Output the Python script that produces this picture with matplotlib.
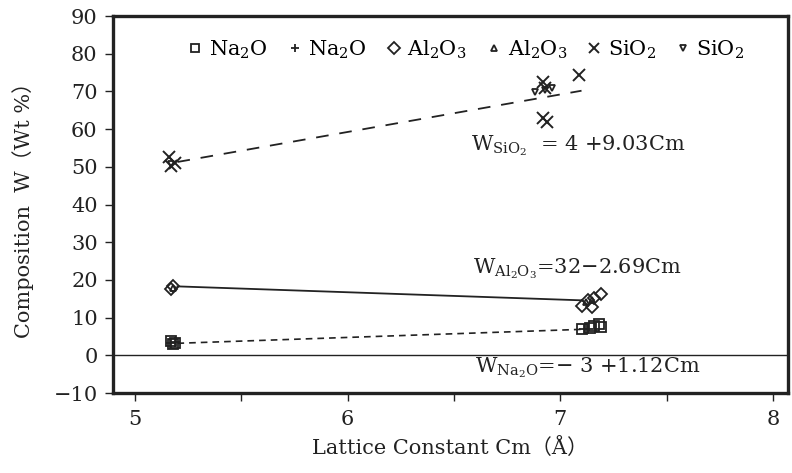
import matplotlib
matplotlib.use("Agg")
import matplotlib.pyplot as plt

plt.rcParams['font.family'] = ['DejaVu Serif', 'Noto Sans CJK JP']
plt.rcParams['mathtext.fontset'] = 'dejavuserif'

# data
na_sq_x = [5.17, 5.18, 5.19, 7.10, 7.14, 7.16, 7.18, 7.19]
na_sq_y = [3.8, 3.0, 3.4, 7.0, 7.3, 7.8, 8.2, 7.4]
na_plus_x = [5.17, 5.19, 7.11, 7.13]
na_plus_y = [3.2, 3.6, 7.1, 7.0]
al_dia_x = [5.17, 5.18, 7.10, 7.13, 7.15, 7.16, 7.19]
al_dia_y = [17.5, 18.3, 13.2, 14.6, 12.7, 15.2, 16.3]
al_tri_x = [5.18, 7.12, 7.15]
al_tri_y = [17.8, 14.2, 14.8]
si_x_x = [5.16, 5.17, 5.19, 6.92, 6.93, 6.92, 6.94, 7.09]
si_x_y = [52.5, 50.3, 51.0, 72.5, 71.0, 63.0, 61.8, 74.3]
si_tri_x = [5.17, 6.88, 6.93, 6.96]
si_tri_y = [50.8, 69.8, 70.5, 70.8]

# fitted lines (end points)
si_line_x = [5.2, 7.1]
si_line_y = [51.3, 70.2]
al_line_x = [5.2, 7.1]
al_line_y = [18.3, 14.6]
na_line_x = [5.2, 7.1]
na_line_y = [3.2, 6.9]

ink = '#222222'

fig = plt.figure(figsize=(7.92, 4.73), dpi=100)
ax = fig.add_axes([0.1427, 0.169, 0.852, 0.797])

ax.axhline(0, color=ink, lw=1.0)
ax.plot(si_line_x, si_line_y, color=ink, lw=1.3, dashes=(7, 6))
ax.plot(al_line_x, al_line_y, color=ink, lw=1.3)
ax.plot(na_line_x, na_line_y, color=ink, lw=1.2, dashes=(4, 3))

ax.plot(na_sq_x, na_sq_y, 's', ms=6.5, mfc='none', mec=ink, mew=1.3, ls='none', label='Na$_2$O')
ax.plot(na_plus_x, na_plus_y, '+', ms=7, mec=ink, mew=1.3, ls='none', label='Na$_2$O')
ax.plot(al_dia_x, al_dia_y, 'D', ms=6.5, mfc='none', mec=ink, mew=1.3, ls='none', label='Al$_2$O$_3$')
ax.plot(al_tri_x, al_tri_y, '^', ms=5, mfc='none', mec=ink, mew=1.3, ls='none', label='Al$_2$O$_3$')
ax.plot(si_x_x, si_x_y, 'x', ms=8, mec=ink, mew=1.4, ls='none', label='SiO$_2$')
ax.plot(si_tri_x, si_tri_y, 'v', ms=5, mfc='none', mec=ink, mew=1.3, ls='none', label='SiO$_2$')

ax.legend(loc='upper left', bbox_to_anchor=(0.085, 0.99), ncol=6, frameon=False,
          fontsize=15, handlelength=0.6, handletextpad=0.35, columnspacing=1.0,
          markerscale=0.9)

ax.text(6.58, 55.5, r'W$_{\mathrm{SiO_2}}$  = 4 +9.03Cm', fontsize=15, color=ink, va='center')
ax.text(6.59, 23.0, r'W$_{\mathrm{Al_2O_3}}$=32$-$2.69Cm', fontsize=15, color=ink, va='center')
ax.text(6.60, -3.4, r'W$_{\mathrm{Na_2O}}$=$-$ 3 +1.12Cm', fontsize=15, color=ink, va='center')

ax.set_xlim(4.897, 8.07)
ax.set_ylim(-10, 90)
ax.set_xticks([5, 6, 7, 8])
ax.set_xticks([5.5, 6.5, 7.5], minor=True)
ax.set_yticks(range(-10, 91, 10))
ax.set_yticklabels(['\u221210'] + [str(v) for v in range(0, 91, 10)])
ax.tick_params(axis='both', which='both', direction='out', length=6, width=1.0,
               colors=ink, labelsize=15, pad=5)
ax.tick_params(axis='x', pad=6)
for s in ax.spines.values():
    s.set_linewidth(2.4)
    s.set_color(ink)

ax.set_xlabel('Lattice Constant Cm（Å）', fontsize=15, color=ink, labelpad=6)
ax.set_ylabel('Composition  W（Wt %）', fontsize=15, color=ink, labelpad=14)

fig.savefig('out.png', dpi=100)
